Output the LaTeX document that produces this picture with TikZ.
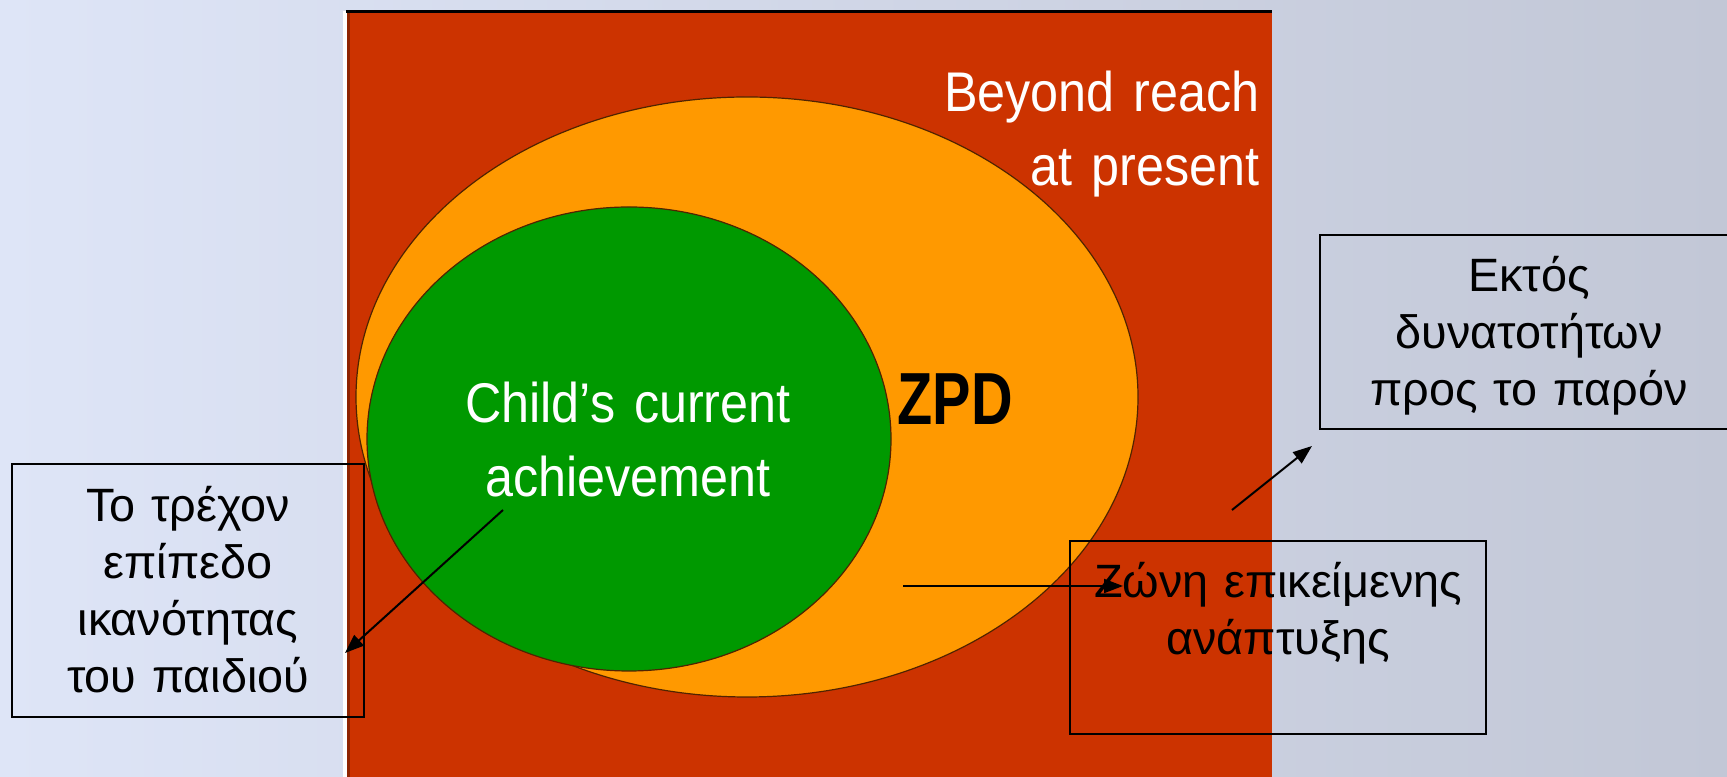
\documentclass[tikz,border=0pt]{standalone}
\usepackage{fontspec}
\setmainfont{Liberation Sans}
\newfontfamily\slidefont[FakeStretch=0.9, WordSpace=0.75]{Liberation Sans}
\newfontfamily\zpdfont[FakeStretch=0.78]{Liberation Sans}
\usetikzlibrary{arrows.meta, calc, positioning}
\definecolor{slideleft}{RGB}{222,229,247}
\definecolor{slideright}{RGB}{194,199,214}
\definecolor{beyondred}{RGB}{204,51,0}
\definecolor{zpdorange}{RGB}{255,153,0}
\definecolor{nowgreen}{RGB}{0,153,0}
\definecolor{rimbrown}{RGB}{80,35,0}
\tikzset{
  callout/.style={rectangle, draw=black, line width=0.02cm, inner sep=0pt},
  calltext/.style={anchor=base, inner sep=0pt, text width=4cm, align=center, font=\fontsize{13.3}{16.2}\selectfont},
  slidetext/.style={inner sep=0pt, text=white, text width=4cm, font=\slidefont\fontsize{15.9}{20.8}\selectfont},
  pointer/.style={line width=0.02cm, -{Triangle[length=0.19cm, width=0.14cm]}}
}

\begin{document}
\begin{tikzpicture}[x=0.01cm, y=-0.01cm]
    \useasboundingbox (0,0) rectangle (1727,777);

    % 1. Slide background and red panel
    \fill[left color=slideleft, right color=slideright] (0,0) rectangle (1727,777);
    \fill[white] (343,11) rectangle (347,777);
    \fill[beyondred] (347,13) rectangle (1272,777);
    \fill[beyondred!70!black] (347,13) rectangle (350,777);
    \fill[black] (346,10) rectangle (1272,13);

    % 2. Zones (ZPD and current achievement)
    \draw[rimbrown, line width=0.012cm, fill=zpdorange] (747,397) ellipse [x radius=391, y radius=300];
    \draw[rimbrown, line width=0.012cm, fill=nowgreen] (629,439) ellipse [x radius=262, y radius=232];

    \node[slidetext, anchor=base east, align=right] (beyond) at (1260,112) {Beyond reach\\at present};
    \node[slidetext, anchor=base, align=center] (child) at (628,423) {Child’s current\\achievement};
    \node[inner sep=0pt, anchor=base, font=\zpdfont\bfseries\fontsize{21}{24}\selectfont] (zpd) at (955,425) {ZPD};

    % ==========================================
    % 3. Greek callouts
    % ==========================================
    \node[callout, minimum width=3.52cm, minimum height=2.53cm, anchor=north west] (nowbox) at (11,463) {};
    \node[calltext] (nowtext) at ($(nowbox.north)+(0,59)$) {Το τρέχον\\επίπεδο\\ικανότητας\\του παιδιού};

    \node[callout, minimum width=4.18cm, minimum height=1.94cm, anchor=north west] (farbox) at (1319,234) {};
    \node[calltext] (fartext) at ($(farbox.north)+(0,58)$) {Εκτός\\δυνατοτήτων\\προς το παρόν};

    \node[callout, minimum width=4.16cm, minimum height=1.93cm, anchor=north west] (zonebox) at (1069,540) {};
    \node[calltext] (zonetext) at ($(zonebox.north)+(0,58)$) {Ζώνη επικείμενης\\ανάπτυξης};

    % arrows from the zones to the callouts
    \coordinate (nowfrom) at (503,510);
    \coordinate (nowto) at (345,653);
    \coordinate (zpdfrom) at (903,586);
    \coordinate (zpdto) at (1123,586);
    \coordinate (farfrom) at (1232,510);
    \coordinate (farto) at (1312,446);
    \draw[pointer] (nowfrom) -- (nowto);
    \draw[pointer] (zpdfrom) -- (zpdto);
    \draw[pointer] (farfrom) -- (farto);

\end{tikzpicture}
\end{document}
